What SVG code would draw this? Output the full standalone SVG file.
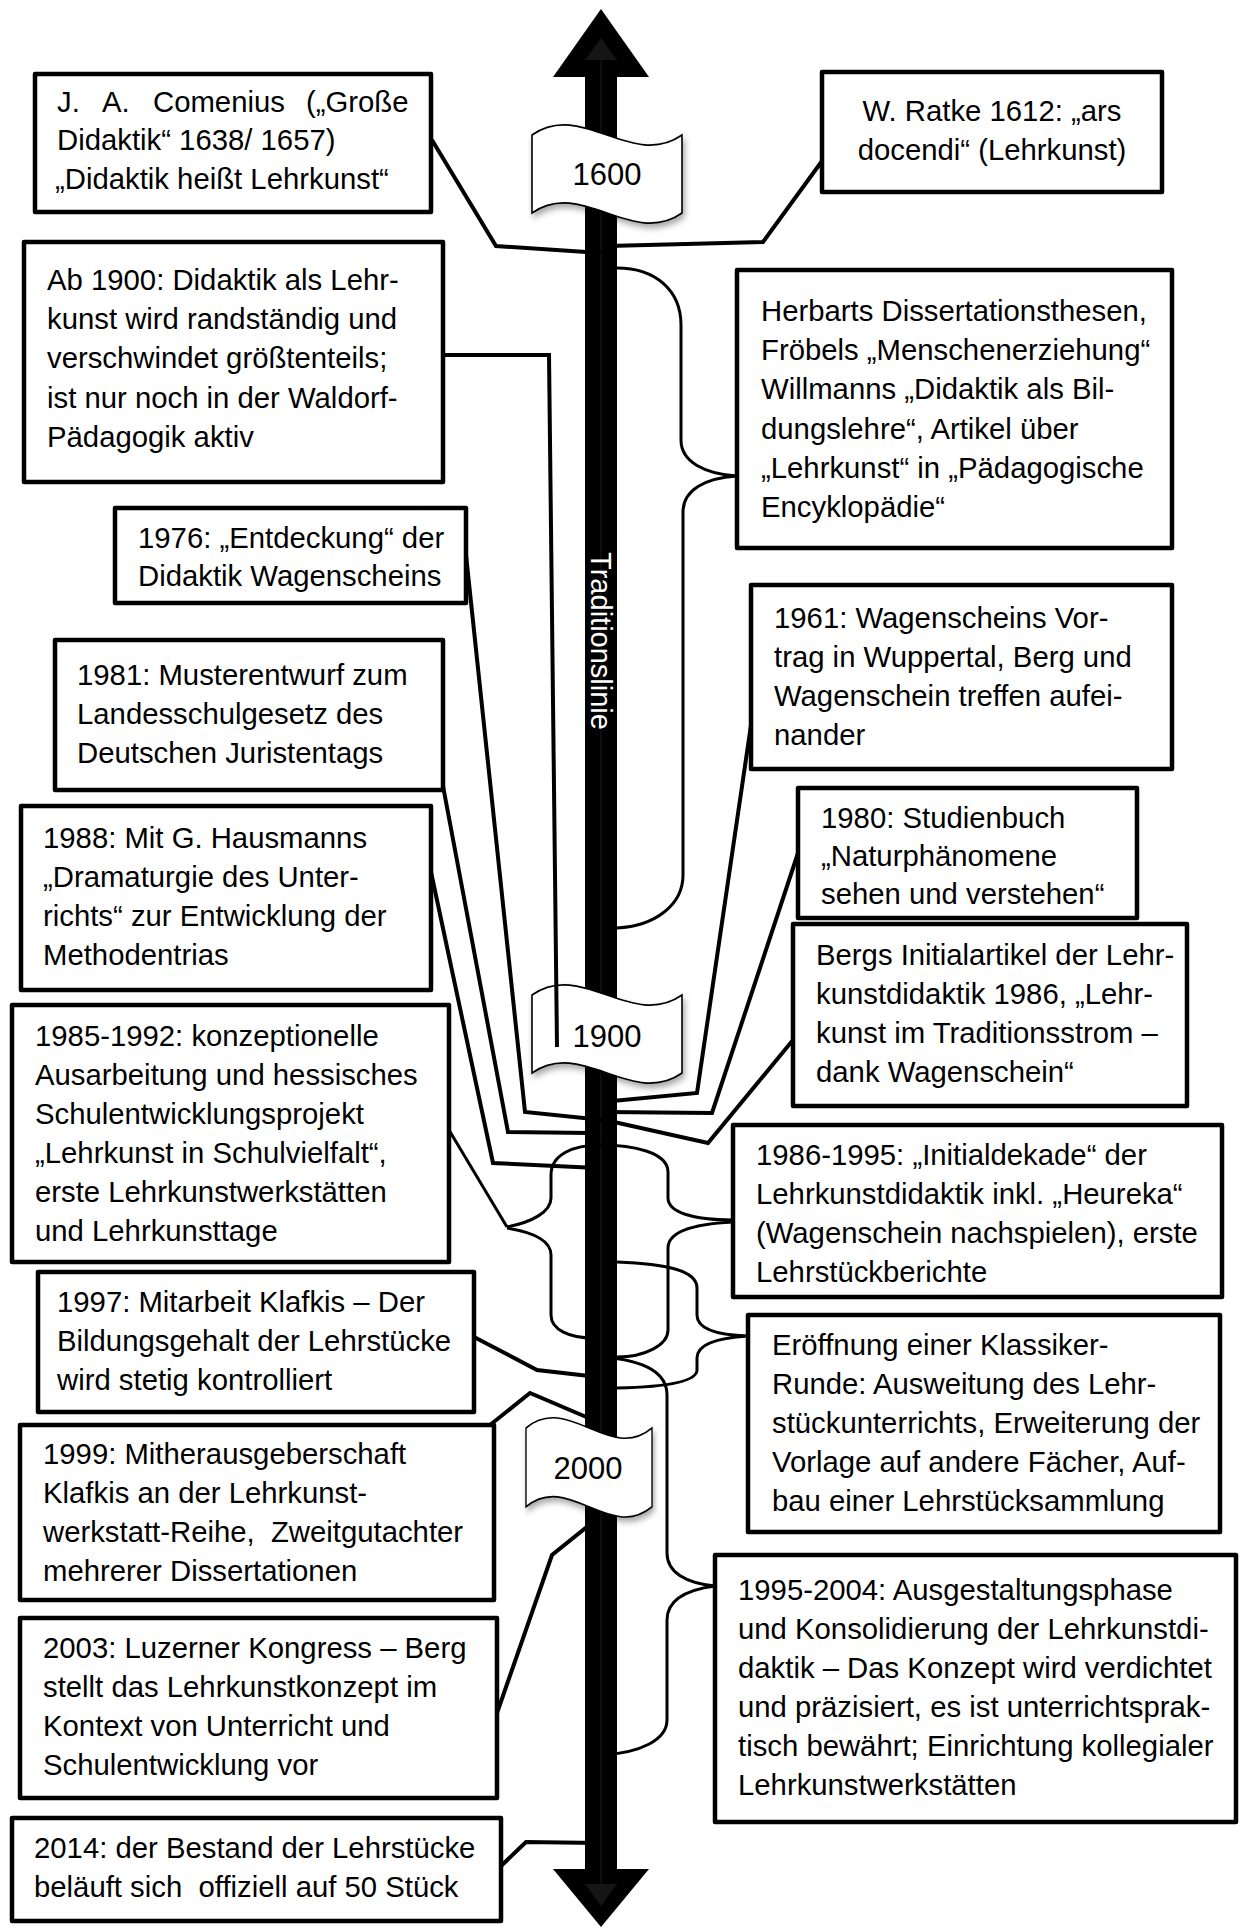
<svg xmlns="http://www.w3.org/2000/svg" width="1241" height="1927" viewBox="0 0 1241 1927">
<style>
.box{fill:#fff;stroke:#000;stroke-width:4.5;stroke-linejoin:round}
.t{font-family:"Liberation Sans",Arial,sans-serif;font-size:29.3px;fill:#000;white-space:pre}
.con{fill:none;stroke:#000;stroke-width:4;stroke-linejoin:miter}
.br{fill:none;stroke:#000;stroke-width:3}
.flag{fill:#fff;stroke:#000;stroke-width:1.6;filter:url(#sh)}
.yr{font-family:"Liberation Sans",Arial,sans-serif;font-size:31px;fill:#000;text-anchor:middle}
</style>
<defs>
<filter id="sh" x="-10%" y="-20%" width="130%" height="150%">
<feDropShadow dx="2" dy="4" stdDeviation="3" flood-color="#000" flood-opacity="0.35"/>
</filter>
<path id="flagshape" d="M0,0 C50,-35 100,35 150,0 L150,78 C100,113 50,43 0,78 Z"/>
</defs>
<rect width="1241" height="1927" fill="#fff"/>

<g id="axis">
<rect x="585" y="70" width="32" height="1806" fill="#000"/>
<polygon points="553,77 601,9 649,77" fill="#000"/>
<polygon points="553,1869 601,1927 649,1869" fill="#000"/>
<polygon points="585,60 601,38 617,60" fill="#151515"/>
<polygon points="585,1884 601,1906 617,1884" fill="#151515"/>
<line x1="601" y1="60" x2="601" y2="1884" stroke="#1c1c1c" stroke-width="1"/>
<text class="t" style="fill:#fff;font-size:29px" text-anchor="middle" transform="translate(591,641) rotate(90)">Traditionslinie</text>
</g>

<g id="flag-1600">
<use href="#flagshape" class="flag" transform="translate(532,135)"/>
<text class="yr" x="607" y="185">1600</text>
</g>
<g id="flag-1900">
<use href="#flagshape" class="flag" transform="translate(532,995)"/>
<text class="yr" x="607" y="1047">1900</text>
</g>
<g id="flag-2000">
<use href="#flagshape" class="flag" transform="translate(526,1428) scale(0.84,1.01)"/>
<text class="yr" x="588" y="1479">2000</text>
</g>

<g id="connectors">
<polyline class="con" points="432,140 496,246 601,253"/>
<polyline class="con" points="822,161 763,242 608,246"/>
<polyline class="con" points="443,355 549,355 557,1047"/>
<polyline class="con" points="466,555 525,1112 603,1120"/>
<polyline class="con" points="443,786 508,1132 590,1133"/>
<polyline class="con" points="431,872 493,1163 597,1168"/>
<polyline class="con" points="751,725 697,1093 602,1102"/>
<polyline class="con" points="798,853 712,1113 605,1112"/>
<polyline class="con" points="793,1040 708,1143 605,1120"/>
<polyline class="con" points="474,1337 537,1370 598,1377"/>
<polyline class="con" points="490,1425 530,1393 598,1422"/>
<polyline class="con" points="497,1713 552,1555 598,1518"/>
<polyline class="con" points="501,1866 526,1842 600,1843"/>
<path class="br" d="M617,268 C655,268 681,290 681,325 L681,440 C681,462 705,474 737,476 C705,478 683,490 683,512 L683,875 C683,905 655,926 617,928"/>
<path class="br" d="M449,1130 L507,1227"/>
<path class="br" d="M507,1227 C532,1222 551,1212 551,1198 L551,1175 C551,1155 572,1145 601,1145 C632,1145 668,1152 668,1172 L668,1198 C668,1212 692,1220 733,1220"/>
<path class="br" d="M507,1228 C532,1232 551,1240 551,1255 L551,1315 C551,1330 570,1338 593,1338"/>
<path class="br" d="M733,1222 C692,1224 668,1232 668,1248 L668,1330 C668,1345 645,1357 617,1357"/>
<path class="br" d="M617,1262 C665,1264 697,1270 697,1288 L697,1315 C697,1328 715,1335 748,1336 C715,1338 697,1345 697,1358 L697,1370 C697,1382 665,1387 617,1388"/>
<path class="br" d="M603,1357 C640,1360 667,1370 667,1395 L667,1553 C667,1572 685,1583 715,1586 C685,1590 667,1600 667,1620 L667,1720 C667,1740 640,1753 602,1755"/>
</g>

<g id="n-comenius">
<rect class="box" x="35" y="74" width="396" height="138"/>
<text class="t" y="112"><tspan x="57">J.</tspan><tspan x="102">A.</tspan><tspan x="153">Comenius</tspan><tspan x="306">(„Große</tspan></text>
<text class="t" x="57" y="150">Didaktik“ 1638/ 1657)</text>
<text class="t" x="55" y="189">„Didaktik heißt Lehrkunst“</text>
</g>

<g id="n-ratke">
<rect class="box" x="822" y="72" width="340" height="120"/>
<text class="t" text-anchor="middle" x="992" y="121">W. Ratke 1612: „ars</text>
<text class="t" text-anchor="middle" x="992" y="160">docendi“ (Lehrkunst)</text>
</g>

<g id="n-ab1900">
<rect class="box" x="24" y="242" width="419" height="240"/>
<text class="t" x="47" y="290">Ab 1900: Didaktik als Lehr-</text>
<text class="t" x="47" y="329">kunst wird randständig und</text>
<text class="t" x="47" y="368">verschwindet größtenteils;</text>
<text class="t" x="47" y="408">ist nur noch in der Waldorf-</text>
<text class="t" x="47" y="447">Pädagogik aktiv</text>
</g>

<g id="n-herbart">
<rect class="box" x="737" y="270" width="435" height="278"/>
<text class="t" x="761" y="321">Herbarts Dissertationsthesen,</text>
<text class="t" x="761" y="360">Fröbels „Menschenerziehung“</text>
<text class="t" x="761" y="399">Willmanns „Didaktik als Bil-</text>
<text class="t" x="761" y="439">dungslehre“, Artikel über</text>
<text class="t" x="761" y="478">„Lehrkunst“ in „Pädagogische</text>
<text class="t" x="761" y="517">Encyklopädie“</text>
</g>

<g id="n-1976">
<rect class="box" x="115" y="508" width="351" height="95"/>
<text class="t" x="138" y="548">1976: „Entdeckung“ der</text>
<text class="t" x="138" y="586">Didaktik Wagenscheins</text>
</g>

<g id="n-1961">
<rect class="box" x="751" y="585" width="421" height="184"/>
<text class="t" x="774" y="628">1961: Wagenscheins Vor-</text>
<text class="t" x="774" y="667">trag in Wuppertal, Berg und</text>
<text class="t" x="774" y="706">Wagenschein treffen aufei-</text>
<text class="t" x="774" y="745">nander</text>
</g>

<g id="n-1981">
<rect class="box" x="55" y="640" width="388" height="150"/>
<text class="t" x="77" y="685">1981: Musterentwurf zum</text>
<text class="t" x="77" y="724">Landesschulgesetz des</text>
<text class="t" x="77" y="763">Deutschen Juristentags</text>
</g>

<g id="n-1988">
<rect class="box" x="21" y="806" width="410" height="184"/>
<text class="t" x="43" y="848">1988: Mit G. Hausmanns</text>
<text class="t" x="43" y="887">„Dramaturgie des Unter-</text>
<text class="t" x="43" y="926">richts“ zur Entwicklung der</text>
<text class="t" x="43" y="965">Methodentrias</text>
</g>

<g id="n-1980">
<rect class="box" x="798" y="788" width="339" height="130"/>
<text class="t" x="821" y="828">1980: Studienbuch</text>
<text class="t" x="821" y="866">„Naturphänomene</text>
<text class="t" x="821" y="904">sehen und verstehen“</text>
</g>

<g id="n-bergs">
<rect class="box" x="793" y="924" width="394" height="182"/>
<text class="t" x="816" y="965">Bergs Initialartikel der Lehr-</text>
<text class="t" x="816" y="1004">kunstdidaktik 1986, „Lehr-</text>
<text class="t" x="816" y="1043">kunst im Traditionsstrom –</text>
<text class="t" x="816" y="1082">dank Wagenschein“</text>
</g>

<g id="n-1985">
<rect class="box" x="12" y="1005" width="437" height="257"/>
<text class="t" x="35" y="1046">1985-1992: konzeptionelle</text>
<text class="t" x="35" y="1085">Ausarbeitung und hessisches</text>
<text class="t" x="35" y="1124">Schulentwicklungsprojekt</text>
<text class="t" x="35" y="1163">„Lehrkunst in Schulvielfalt“,</text>
<text class="t" x="35" y="1202">erste Lehrkunstwerkstätten</text>
<text class="t" x="35" y="1241">und Lehrkunsttage</text>
</g>

<g id="n-1986">
<rect class="box" x="733" y="1125" width="489" height="172"/>
<text class="t" x="756" y="1165">1986-1995: „Initialdekade“ der</text>
<text class="t" x="756" y="1204">Lehrkunstdidaktik inkl. „Heureka“</text>
<text class="t" x="756" y="1243">(Wagenschein nachspielen), erste</text>
<text class="t" x="756" y="1282">Lehrstückberichte</text>
</g>

<g id="n-1997">
<rect class="box" x="38" y="1272" width="436" height="140"/>
<text class="t" x="57" y="1312">1997: Mitarbeit Klafkis – Der</text>
<text class="t" x="57" y="1351">Bildungsgehalt der Lehrstücke</text>
<text class="t" x="57" y="1390">wird stetig kontrolliert</text>
</g>

<g id="n-klassiker">
<rect class="box" x="748" y="1315" width="472" height="217"/>
<text class="t" x="772" y="1355">Eröffnung einer Klassiker-</text>
<text class="t" x="772" y="1394">Runde: Ausweitung des Lehr-</text>
<text class="t" x="772" y="1433">stückunterrichts, Erweiterung der</text>
<text class="t" x="772" y="1472">Vorlage auf andere Fächer, Auf-</text>
<text class="t" x="772" y="1511">bau einer Lehrstücksammlung</text>
</g>

<g id="n-1999">
<rect class="box" x="20" y="1425" width="474" height="175"/>
<text class="t" x="43" y="1464">1999: Mitherausgeberschaft</text>
<text class="t" x="43" y="1503">Klafkis an der Lehrkunst-</text>
<text class="t" x="43" y="1542">werkstatt-Reihe,  Zweitgutachter</text>
<text class="t" x="43" y="1581">mehrerer Dissertationen</text>
</g>

<g id="n-1995">
<rect class="box" x="715" y="1555" width="521" height="267"/>
<text class="t" x="738" y="1600">1995-2004: Ausgestaltungsphase</text>
<text class="t" x="738" y="1639">und Konsolidierung der Lehrkunstdi-</text>
<text class="t" x="738" y="1678">daktik – Das Konzept wird verdichtet</text>
<text class="t" x="738" y="1717">und präzisiert, es ist unterrichtsprak-</text>
<text class="t" x="738" y="1756">tisch bewährt; Einrichtung kollegialer</text>
<text class="t" x="738" y="1795">Lehrkunstwerkstätten</text>
</g>

<g id="n-2003">
<rect class="box" x="20" y="1618" width="477" height="180"/>
<text class="t" x="43" y="1658">2003: Luzerner Kongress – Berg</text>
<text class="t" x="43" y="1697">stellt das Lehrkunstkonzept im</text>
<text class="t" x="43" y="1736">Kontext von Unterricht und</text>
<text class="t" x="43" y="1775">Schulentwicklung vor</text>
</g>

<g id="n-2014">
<rect class="box" x="12" y="1818" width="489" height="103"/>
<text class="t" x="34" y="1858">2014: der Bestand der Lehrstücke</text>
<text class="t" x="34" y="1897">beläuft sich  offiziell auf 50 Stück</text>
</g>
</svg>
